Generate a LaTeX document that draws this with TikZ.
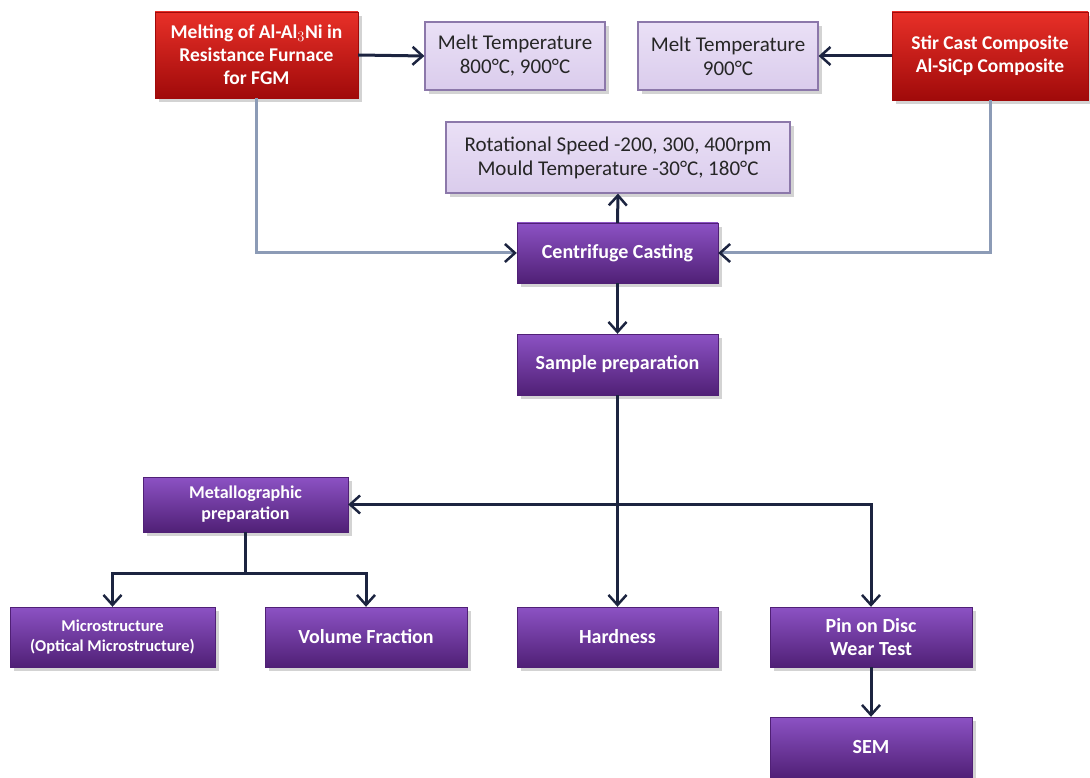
\documentclass[tikz,border=0pt]{standalone}
\usepackage{fontspec}
\setmainfont{Carlito}
\usepackage{tikz}
\usetikzlibrary{arrows.meta,shadows}
\definecolor{moradoTop}{RGB}{140,82,196}
\definecolor{moradoMid}{RGB}{104,46,152}
\definecolor{moradoBot}{RGB}{80,32,118}
\definecolor{rojoTop}{RGB}{232,48,40}
\definecolor{rojoMid}{RGB}{200,20,20}
\definecolor{rojoBot}{RGB}{160,10,10}
\definecolor{lilaBg}{RGB}{234,224,246}
\definecolor{lilaBot}{RGB}{218,204,236}
\definecolor{lilaBox}{RGB}{140,120,170}
\definecolor{navyLine}{RGB}{28,36,64}
\definecolor{steelLine}{RGB}{140,155,182}
\tikzset{
  sombra/.style={drop shadow={shadow xshift=4pt, shadow yshift=-4pt, opacity=0.35}},
  procBox/.style={sombra, draw=moradoBot, top color=moradoTop, middle color=moradoMid,
    bottom color=moradoBot, text=white, font=\fontsize{20}{23}\selectfont\bfseries,
    align=center, inner sep=0pt},
  inputBox/.style={sombra, draw=rojoBot, top color=rojoTop, middle color=rojoMid,
    bottom color=rojoBot, text=white, font=\fontsize{19.5}{23}\selectfont\bfseries,
    align=center, inner sep=0pt},
  paramBox/.style={sombra, draw=lilaBox, line width=1.2pt, top color=lilaBg, bottom color=lilaBot,
    text=black!85, font=\fontsize{21}{24}\selectfont, align=center, inner sep=0pt},
  link/.style={draw=navyLine, line width=3pt,
    -{Straight Barb[length=10pt, width=18pt, line width=2.5pt]}},
  feed/.style={draw=steelLine, line width=3pt,
    -{Straight Barb[length=10pt, width=18pt, line width=2.5pt, color=navyLine]}}
}

\begin{document}
\begin{tikzpicture}[x=1pt, y=-1pt]
  \useasboundingbox (0,0) rectangle (1090,778);
  % Inputs
  \node[inputBox, minimum width=203pt, minimum height=86pt] (furnace) at (256.5,55)
    {Melting of Al-Al$_3$Ni in\\Resistance Furnace\\for FGM};
  \node[paramBox, minimum width=180pt, minimum height=68pt] (meltA) at (515,56)
    {Melt Temperature\\800\textdegree C, 900\textdegree C};
  \node[paramBox, minimum width=180pt, minimum height=68pt] (meltB) at (728,56)
    {Melt Temperature\\900\textdegree C};
  \node[inputBox, minimum width=196pt, minimum height=88pt] (stircast) at (990,56)
    {Stir Cast Composite\\Al-SiCp Composite};
  \node[paramBox, minimum width=344pt, minimum height=71pt] (params) at (618,157.5)
    {Rotational Speed -200, 300, 400rpm\\Mould Temperature -30\textdegree C, 180\textdegree C};
  % Process
  \node[procBox, minimum width=201pt, minimum height=60pt] (casting) at (617.5,253)
    {Centrifuge Casting};
  \node[procBox, minimum width=201pt, minimum height=61pt] (sample) at (617.5,364.5)
    {Sample preparation};
  \node[procBox, minimum width=205pt, minimum height=55pt,
    font=\fontsize{18}{21}\selectfont\bfseries] (metallo) at (245.5,504.5)
    {Metallographic\\preparation};
  % Tests
  \node[procBox, minimum width=205pt, minimum height=60pt,
    font=\fontsize{16.5}{20}\selectfont\bfseries] (micro) at (112.5,637)
    {Microstructure\\(Optical Microstructure)};
  \node[procBox, minimum width=202pt, minimum height=60pt] (volfrac) at (366,637)
    {Volume Fraction};
  \node[procBox, minimum width=201pt, minimum height=60pt] (hardness) at (617.5,637)
    {Hardness};
  \node[procBox, minimum width=202pt, minimum height=60pt] (pindisc) at (871,637)
    {Pin on Disc\\Wear Test};
  \node[procBox, minimum width=202pt, minimum height=61pt] (sem) at (871,747.5)
    {SEM};
  % Connectors
  \draw[link] (furnace.east) -- (meltA.west);
  \draw[link] (stircast.west) -- (meltB.east);
  \draw[feed] (furnace.south) |- (casting.west);
  \draw[feed] (stircast.south) |- (casting.east);
  \draw[link] (casting.north) -- (params.south);
  \draw[link] (casting.south) -- (sample.north);
  \draw[link] (sample.south) -- (hardness.north);
  \draw[link, {Straight Barb[length=10pt, width=18pt, line width=2.5pt]}-{Straight Barb[length=10pt, width=18pt, line width=2.5pt]}]
    (metallo.east) -| (pindisc.north);
  \draw[draw=navyLine, line width=3pt] (metallo.south) -- ++(0,41) coordinate (split);
  \draw[link] (split) -| (micro.north);
  \draw[link] (split) -| (volfrac.north);
  \draw[link] (pindisc.south) -- (sem.north);
\end{tikzpicture}
\end{document}
